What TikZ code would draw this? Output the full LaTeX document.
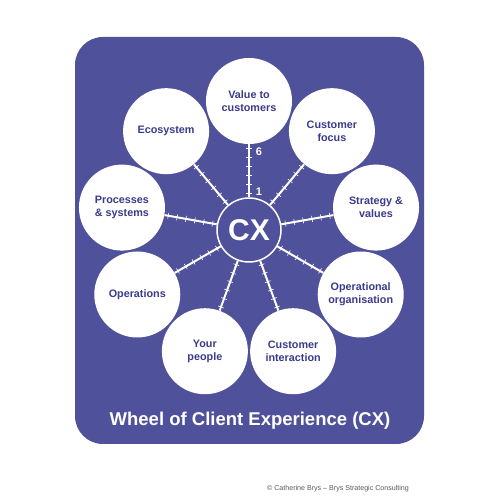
\documentclass[tikz,border=0pt]{standalone}
\usepackage{fontspec}
\setmainfont{Liberation Sans}
\usetikzlibrary{calc}
\definecolor{wheelbg}{RGB}{79,81,154}
\definecolor{wheeltext}{RGB}{58,59,140}
\definecolor{copygray}{RGB}{90,90,90}
\begin{document}
\begin{tikzpicture}[x=1pt,y=1pt,
  outer/.style={circle,fill=white,minimum size=86pt,inner sep=0pt,align=center,
    font=\fontsize{10.8}{13}\selectfont\bfseries,text=wheeltext},
  hub/.style={circle,draw=white,line width=1.5pt,fill=wheelbg,minimum size=64pt,
    inner sep=0pt,font=\fontsize{30}{32}\selectfont\bfseries,text=white},
  spoke/.style={white,line width=2pt},
  tickmark/.style={white,line width=0.6pt},
  scale label/.style={text=white,font=\fontsize{11}{12}\selectfont\bfseries,inner sep=0pt},
]
\useasboundingbox (0,0) rectangle (500,500);
\fill[white] (0,0) rectangle (500,500);
\fill[wheelbg,rounded corners=28pt] (75,56) rectangle (424,463);
\node[hub] (cx) at (249,270) {CX};
\foreach \a/\n/\t in {90/v/{Value to\\customers}, 50/cf/{Customer\\focus},
  10/sv/{Strategy \&\\values}, -30/oo/{Operational\\organisation},
  -70/ci/{Customer\\interaction}, -110/yp/{Your\\people},
  -150/op/{Operations}, 170/ps/{Processes\\\& systems}, 130/ec/{Ecosystem}}
  \node[outer] (\n) at ($(cx.center)+(\a:129)$) {\t};
\foreach \a/\n in {90/v, 50/cf, 10/sv, -30/oo, -70/ci, -110/yp, -150/op, 170/ps, 130/ec}{
  \draw[spoke] (cx) -- (\n);
  \foreach \k in {0,...,5}
    \draw[tickmark] ($(cx.center)+(\a:{37+9*\k})+(\a+90:3)$) -- ($(cx.center)+(\a:{37+9*\k})+(\a-90:3)$);
}
\node[scale label] (six) at ($(cx.center)+(10,78)$) {6};
\node[scale label] (one) at ($(cx.center)+(10,38)$) {1};
\node[text=white,font=\fontsize{18.5}{20}\selectfont\bfseries] (title) at (250,79) {Wheel of Client Experience (CX)};
\node[text=copygray,font=\fontsize{7.1}{8}\selectfont] (copy) at (338,11) {© Catherine Brys – Brys Strategic Consulting};
\end{tikzpicture}
\end{document}
